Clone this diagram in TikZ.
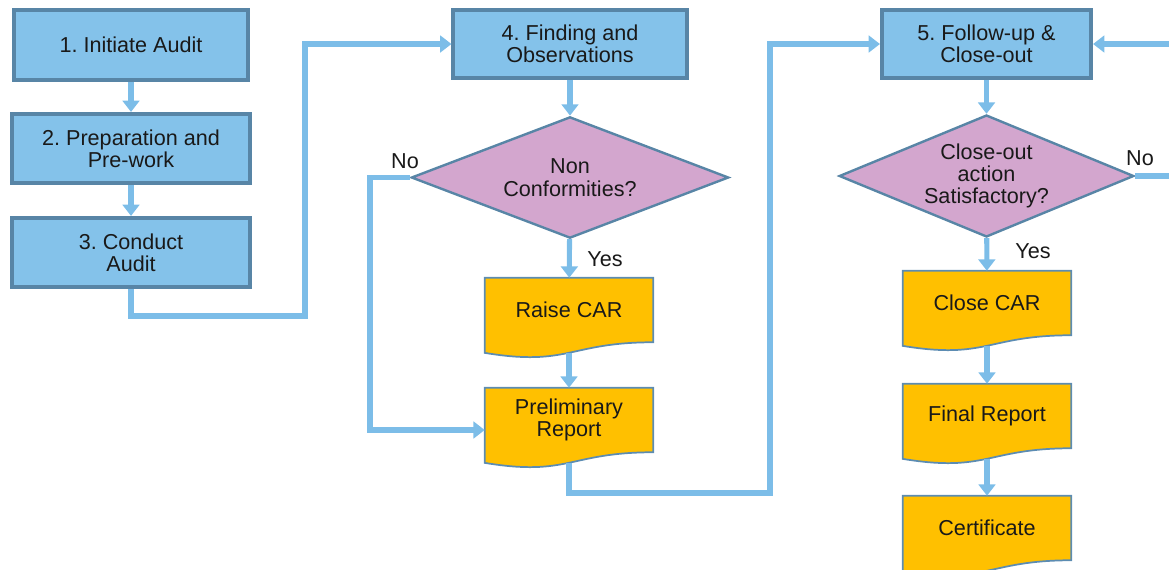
\documentclass[tikz,border=0pt]{standalone}
\usepackage{fontspec}
\setmainfont{Liberation Sans}
\usetikzlibrary{shapes.geometric,arrows.meta,calc,backgrounds}
\frenchspacing

\definecolor{boxblue}{RGB}{132,194,234}
\definecolor{edgeblue}{RGB}{88,133,166}
\definecolor{linkblue}{RGB}{124,189,232}
\definecolor{decpink}{RGB}{211,166,206}
\definecolor{docgold}{RGB}{255,192,0}
\definecolor{docedge}{RGB}{92,140,178}

\tikzset{
  stepbox/.style={draw=edgeblue, line width=2.8pt, fill=boxblue, align=center, inner sep=2pt},
  decide/.style={diamond, draw=edgeblue, line width=1.8pt, fill=decpink, align=center, inner sep=0pt},
  docnode/.style={align=center, minimum width=126pt, minimum height=48pt, inner sep=0pt},
  link/.style={draw=linkblue, line width=3.8pt, -{Triangle[width=12.5pt,length=8.5pt]}},
  tag/.style={inner sep=1pt},
}

% wavy document outline under a named node
\newcommand{\docshape}[1]{%
  \filldraw[draw=docedge, line width=1.3pt, fill=docgold]
    (#1.south east) -- (#1.north east) -- (#1.north west)
    -- ($(#1.south west)+(0,10.6)$)
    .. controls ($(#1.south)+(0,24.5)$) and (#1.south) .. (#1.south east) -- cycle;
  \coordinate (#1-b) at ($(#1.south)+(0,10.5)$);}

\begin{document}
\begin{tikzpicture}[x=0.75pt,y=0.75pt,yscale=-1,xscale=1,font=\fontsize{16.2}{16.8}\selectfont,text=black!90]
  \useasboundingbox (0,0) rectangle (1169,569);
  \clip (0,0) rectangle (1169,569);

  % Audit steps
  \node[stepbox, minimum width=176pt, minimum height=52.5pt] (init) at (131,45) {1. Initiate Audit};
  \node[stepbox, minimum width=178pt, minimum height=52pt] (prep) at (131,148.5) {2. Preparation and\\Pre-work};
  \node[stepbox, minimum width=179pt, minimum height=52pt] (conduct) at (131,252.5) {3. Conduct\\Audit};
  \node[stepbox, minimum width=175pt, minimum height=51pt] (finding) at (570,44) {4. Finding and\\Observations};
  \node[stepbox, minimum width=157pt, minimum height=51pt] (followup) at (986.5,44) {5. Follow-up \&\\Close-out};

  % Decisions
  \node[decide, aspect=2.6, minimum width=238pt, minimum height=91pt] (ncq) at (570,177.5) {Non\\Conformities?};
  \node[decide, aspect=2.4, minimum width=221pt, minimum height=91.5pt] (caq) at (986.5,176) {Close-out\\action\\Satisfactory?};

  % Documents
  \node[docnode] (raisecar) at (569,310) {Raise CAR};
  \node[docnode] (prelim) at (569,420) {Preliminary\\Report};
  \node[docnode] (closecar) at (987,303) {Close CAR};
  \node[docnode] (final) at (987,416) {Final Report};
  \node[docnode] (cert) at (987,528) {Certificate};

  \begin{scope}[on background layer]
    \docshape{raisecar}
    \docshape{prelim}
    \docshape{closecar}
    \docshape{final}
    \docshape{cert}
  \end{scope}

  % Connectors
  \coordinate (j1) at (305,316);
  \coordinate (j2) at (370,430);
  \coordinate (j3) at (770,493);
  \coordinate (j4) at (1190,100);

  \draw[link] (init) -- (prep);
  \draw[link] (prep) -- (conduct);
  \draw[link] (conduct.south) |- (j1) |- (finding.west);
  \draw[link] (finding) -- (ncq);
  \draw[link] (ncq) -- (raisecar);
  \draw[link] (ncq.west) -| (j2) -- (j2 -| prelim.west);
  \draw[link] (raisecar-b) -- (prelim);
  \draw[link] (prelim-b) |- (j3) |- (followup.west);
  \draw[link] (followup) -- (caq);
  \draw[link] (caq.east) -| (j4) |- (followup.east);
  \draw[link] (caq) -- (closecar);
  \draw[link] (closecar-b) -- (final);
  \draw[link] (final-b) -- (cert);

  % Branch labels
  \node[tag] (no1) at (405,161) {No};
  \node[tag] (yes1) at (605,259) {Yes};
  \node[tag] (no2) at (1140,158) {No};
  \node[tag] (yes2) at (1033,251) {Yes};
\end{tikzpicture}
\end{document}
